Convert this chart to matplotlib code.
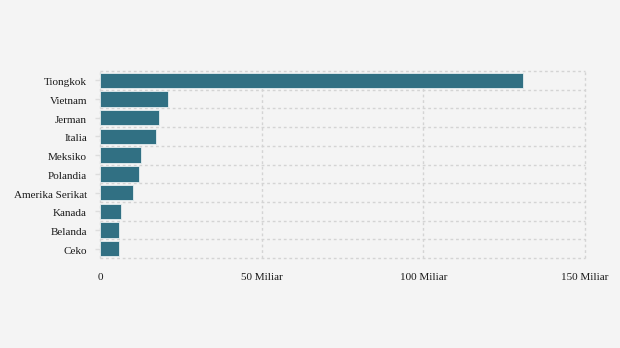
import matplotlib
matplotlib.use("Agg")
import matplotlib.pyplot as plt
import matplotlib.transforms as mtransforms
import numpy as np

categories = ["Tiongkok", "Vietnam", "Jerman", "Italia", "Meksiko", "Polandia",
              "Amerika Serikat", "Kanada", "Belanda", "Ceko"]
values = [130.8, 21.0, 18.2, 17.3, 12.7, 12.1, 10.2, 6.5, 5.9, 5.9]
xticks = [0, 50, 100, 150]
xtick_labels = ["0", "50 Miliar", "100 Miliar", "150 Miliar"]

plt.rcParams['font.family'] = ['Liberation Serif', 'DejaVu Serif']

bg = "#f4f4f4"
fig = plt.figure(figsize=(6.2, 3.48), dpi=100, facecolor=bg)
ax = fig.add_axes([100/620, 1-258/348, 485/620, 187/348])
ax.set_facecolor(bg)

y = np.arange(len(categories))
ax.barh(y, values, height=0.82, color="#317083", edgecolor="#e6eef0", linewidth=0.6, zorder=3)
ax.set_ylim(len(categories)-0.5, -0.5)
ax.set_xlim(0, 150)

ax.set_yticks(y)
ax.set_yticklabels(categories, fontsize=8, color="#1a1a1a")
ax.set_xticks(xticks)
ax.set_xticklabels(xtick_labels, fontsize=8, color="#1a1a1a")
ax.tick_params(axis='y', which='major', length=3.6, width=1, color="#dddddd", pad=5.8)
ax.tick_params(axis='x', length=0, pad=10.5)

offset = mtransforms.ScaledTranslation(0, -1.5/100, fig.dpi_scale_trans)
for lab in ax.get_yticklabels():
    lab.set_transform(lab.get_transform() + offset)

gridkw = dict(color="#d4d4d4", linestyle=(0, (2, 2)), linewidth=1, zorder=0, clip_on=False)
for b in np.arange(len(categories)+1)-0.5:
    ax.axhline(b, **gridkw)
for t in xticks:
    ax.axvline(t, **gridkw)
for s in ax.spines.values():
    s.set_visible(False)

fig.savefig("out.png", dpi=100, facecolor=bg)
